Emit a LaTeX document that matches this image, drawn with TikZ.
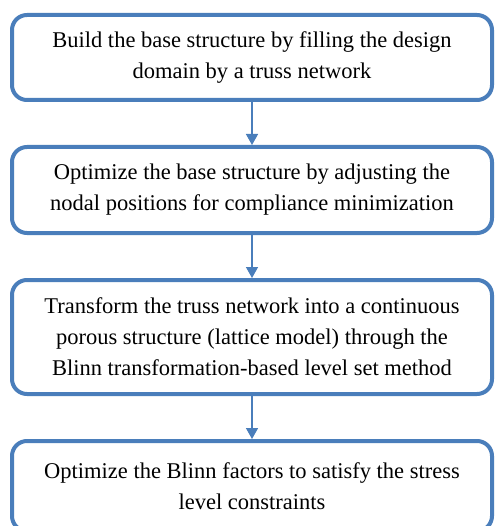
\documentclass[tikz,border=0pt]{standalone}
\usepackage{fontspec}
\setmainfont{Liberation Serif}
\usetikzlibrary{arrows.meta, positioning}
\definecolor{boxblue}{RGB}{74,126,187}

\begin{document}
\begin{tikzpicture}[x=1pt,y=1pt,node distance=43pt,
 step box/.style={draw=boxblue,line width=4pt,rounded corners=15pt,
   minimum width=480pt,align=center,font=\fontsize{22.5}{31}\selectfont},
 flow/.style={draw=boxblue,line width=1.5pt,-{Triangle[width=12pt,length=11pt]}}]

  \useasboundingbox (0,0) rectangle (495,-526);
  \clip (0,0) rectangle (495,-526);

  \node[step box,minimum height=85pt] (1) at (252,-57.5)
    {Build the base structure by filling the design\\domain by a truss network};
  \node[step box,minimum height=86pt] (2) [below=of 1]
    {Optimize the base structure by adjusting the\\nodal positions for compliance minimization};
  \node[step box,minimum height=114pt] (3) [below=of 2]
    {Transform the truss network into a continuous\\porous structure (lattice model) through the\\Blinn transformation-based level set method};
  \node[step box,minimum height=90pt] (4) [below=of 3]
    {Optimize the Blinn factors to satisfy the stress\\level constraints};

  \foreach \s/\t in {1/2, 2/3, 3/4} {
   \path[flow] (\s) -- (\t);}

\end{tikzpicture}
\end{document}
